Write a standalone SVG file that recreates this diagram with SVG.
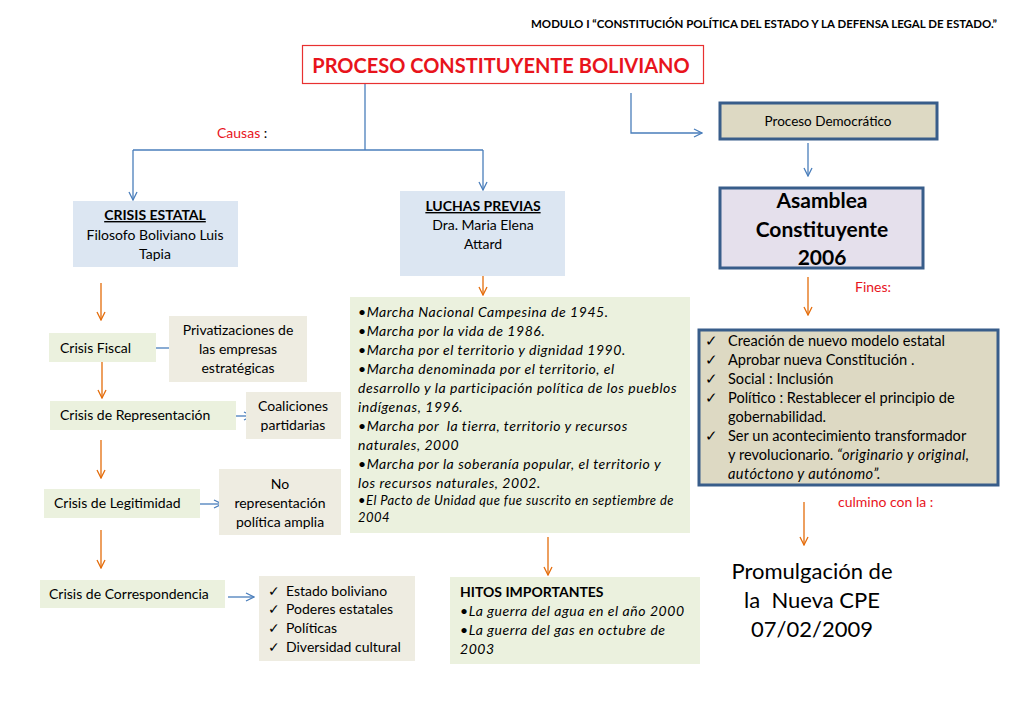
<svg xmlns="http://www.w3.org/2000/svg" width="1024" height="709" viewBox="0 0 1024 709">
<style>
text{font-family:Lato,"Open Sans","Liberation Sans",sans-serif;fill:#000}
.t{font-size:14px}
.f{font-size:14.6px}
.c{text-anchor:middle}
.b{font-weight:bold}
.i{font-style:italic}
.ls{letter-spacing:0.55px}
.red{fill:#e8141c}
.blue{stroke:#4a7ebb;stroke-width:1.3;fill:none}
.org{stroke:#e46c0a;stroke-width:1.3;fill:none}
.bluebox{fill:#dce6f2}
.green{fill:#ebf1de}
.tan{fill:#eeece1}
.frame{stroke:#385d8a;stroke-width:3}
</style>
<defs>
<marker id="ab" viewBox="0 0 10 10" refX="9" refY="5" markerWidth="10" markerHeight="10" markerUnits="userSpaceOnUse" orient="auto"><polyline points="1,1 9,5 1,9" fill="none" stroke="#4a7ebb" stroke-width="1.3"/></marker>
<marker id="ao" viewBox="0 0 10 10" refX="9" refY="5" markerWidth="10" markerHeight="10" markerUnits="userSpaceOnUse" orient="auto"><polyline points="1,1 9,5 1,9" fill="none" stroke="#e46c0a" stroke-width="1.3"/></marker>
</defs>
<rect width="1024" height="709" fill="#fff"/>
<text x="997" y="28" font-size="11" class="b" text-anchor="end" textLength="466" lengthAdjust="spacingAndGlyphs">MODULO I “CONSTITUCIÓN POLÍTICA DEL ESTADO Y LA DEFENSA LEGAL DE ESTADO.”</text>

<g id="connectors">
<polyline class="blue" points="365,83 365,150"/>
<polyline class="blue" points="133,150 483,150"/>
<polyline class="blue" points="133,150 133,200" marker-end="url(#ab)"/>
<polyline class="blue" points="483,150 483,190" marker-end="url(#ab)"/>
<polyline class="blue" points="631,93 631,133 702,133" marker-end="url(#ab)"/>
<polyline class="blue" points="808,143 808,176" marker-end="url(#ab)"/>
<polyline class="org" points="808,277 808,315" marker-end="url(#ao)"/>
<polyline class="org" points="804,502 804,545" marker-end="url(#ao)"/>
<polyline class="org" points="483,262 483,295" marker-end="url(#ao)"/>
<polyline class="org" points="548,537 548,575" marker-end="url(#ao)"/>
<polyline class="org" points="101,283 101,320" marker-end="url(#ao)"/>
<polyline class="org" points="102,362 102,398" marker-end="url(#ao)"/>
<polyline class="org" points="101,440 101,478" marker-end="url(#ao)"/>
<polyline class="org" points="101,530 101,568" marker-end="url(#ao)"/>
<polyline class="blue" points="152,348 178,348" marker-end="url(#ab)"/>
<polyline class="blue" points="225,416 252,416" marker-end="url(#ab)"/>
<polyline class="blue" points="194,504 222,504" marker-end="url(#ab)"/>
<polyline class="blue" points="228,597 254,597" marker-end="url(#ab)"/>
</g>

<g id="title">
<rect x="302.5" y="45.5" width="401" height="38" fill="#fff" stroke="#e83030" stroke-width="1.2"/>
<text x="501" y="73" class="c b red" font-size="20">PROCESO CONSTITUYENTE BOLIVIANO</text>
</g>

<g id="causas"><text x="217" y="138" class="t"><tspan class="red">Causas</tspan> :</text></g>

<g id="proceso-democratico">
<rect x="720" y="103" width="217" height="36" fill="#ddd9c3" class="frame"/>
<text x="828" y="126" class="c" font-size="13.5">Proceso Democrático</text>
</g>

<g id="asamblea">
<rect x="720" y="188" width="203" height="80" fill="#e5e0ec" class="frame"/>
<text x="822" y="208" class="c b" font-size="21">Asamblea</text>
<text x="822" y="237" class="c b" font-size="21">Constituyente</text>
<text x="822" y="265" class="c b" font-size="21">2006</text>
</g>

<g id="fines-label"><text x="855" y="292" class="t red">Fines:</text></g>

<g id="fines">
<rect x="699" y="330" width="299" height="155" fill="#ddd9c3" class="frame"/>
<g class="f">
<text x="705" y="346">✓</text><text x="728" y="346">Creación de nuevo modelo estatal</text>
<text x="705" y="365">✓</text><text x="728" y="365">Aprobar nueva Constitución .</text>
<text x="705" y="384">✓</text><text x="728" y="384">Social : Inclusión</text>
<text x="705" y="403">✓</text><text x="728" y="403">Político : Restablecer el principio de</text>
<text x="728" y="422">gobernabilidad.</text>
<text x="705" y="441">✓</text><text x="728" y="441">Ser un acontecimiento transformador</text>
<text x="728" y="460">y revolucionario. <tspan class="i" letter-spacing="0.4">“originario y original,</tspan></text>
<text x="728" y="479" class="i" letter-spacing="0.4">autóctono y autónomo”.</text>
</g>
</g>

<g id="culmino"><text x="838" y="507" class="t red">culmino con la :</text></g>

<g id="promulgacion">
<text x="812" y="579" class="c" font-size="22">Promulgación de</text>
<text x="812" y="608" class="c" font-size="22" xml:space="preserve">la  Nueva CPE</text>
<text x="812" y="637" class="c" font-size="22">07/02/2009</text>
</g>

<g id="crisis-estatal">
<rect x="73" y="201" width="165" height="66" class="bluebox"/>
<text x="155" y="220" class="t c b" text-decoration="underline">CRISIS ESTATAL</text>
<text x="155" y="240" class="t c">Filosofo Boliviano Luis</text>
<text x="155" y="259" class="t c">Tapia</text>
</g>

<g id="luchas-previas">
<rect x="400" y="191" width="165" height="85" class="bluebox"/>
<text x="483" y="211" class="t c b" text-decoration="underline">LUCHAS PREVIAS</text>
<text x="483" y="230" class="t c">Dra. Maria Elena</text>
<text x="483" y="249" class="t c">Attard</text>
</g>

<g id="marchas">
<rect x="350" y="297" width="340" height="236" class="green"/>
<g class="t i ls">
<text x="358" y="317">•Marcha Nacional Campesina de 1945.</text>
<text x="358" y="336">•Marcha por la vida de 1986.</text>
<text x="358" y="355">•Marcha por el territorio y dignidad 1990.</text>
<text x="358" y="374">•Marcha denominada por el territorio, el</text>
<text x="358" y="393">desarrollo y la participación política de los pueblos</text>
<text x="358" y="412">indígenas, 1996.</text>
<text x="358" y="431" xml:space="preserve">•Marcha por  la tierra, territorio y recursos</text>
<text x="358" y="450">naturales, 2000</text>
<text x="358" y="469">•Marcha por la soberanía popular, el territorio y</text>
<text x="358" y="488">los recursos naturales, 2002.</text>
<text x="358" y="505" font-size="13" letter-spacing="0.45">•El Pacto de Unidad que fue suscrito en septiembre de</text>
<text x="358" y="522" font-size="13" letter-spacing="0.45">2004</text>
</g>
</g>

<g id="hitos">
<rect x="450" y="577" width="250" height="87" class="green"/>
<text x="460" y="597" class="t b">HITOS IMPORTANTES</text>
<text x="460" y="616" class="t i ls">•La guerra del agua en el año 2000</text>
<text x="460" y="635" class="t i ls">•La guerra del gas en octubre de</text>
<text x="460" y="654" class="t i ls">2003</text>
</g>

<g id="crisis-fiscal">
<rect x="49" y="333" width="107" height="29" class="green"/>
<text x="60" y="353" class="t">Crisis Fiscal</text>
</g>
<g id="privatizaciones">
<rect x="169" y="316" width="138" height="66" class="tan"/>
<text x="238" y="335" class="t c">Privatizaciones de</text>
<text x="238" y="354" class="t c">las empresas</text>
<text x="238" y="373" class="t c">estratégicas</text>
</g>

<g id="crisis-representacion">
<rect x="50" y="401" width="186" height="29" class="green"/>
<text x="60" y="420" class="t">Crisis de Representación</text>
</g>
<g id="coaliciones">
<rect x="246" y="392" width="95" height="47" class="tan"/>
<text x="293" y="411" class="t c">Coaliciones</text>
<text x="293" y="430" class="t c">partidarias</text>
</g>

<g id="crisis-legitimidad">
<rect x="44" y="489" width="156" height="29" class="green"/>
<text x="54" y="508" class="t">Crisis de Legitimidad</text>
</g>
<g id="no-representacion">
<rect x="219" y="469" width="122" height="66" class="tan"/>
<text x="280" y="489" class="t c">No</text>
<text x="280" y="508" class="t c">representación</text>
<text x="280" y="527" class="t c">política amplia</text>
</g>

<g id="crisis-correspondencia">
<rect x="40" y="580" width="185" height="28" class="green"/>
<text x="49" y="599" class="t">Crisis de Correspondencia</text>
</g>
<g id="estado-boliviano">
<rect x="259" y="576" width="156" height="85" class="tan"/>
<g class="t">
<text x="268" y="596">✓</text><text x="286" y="596">Estado boliviano</text>
<text x="268" y="614">✓</text><text x="286" y="614">Poderes estatales</text>
<text x="268" y="633">✓</text><text x="286" y="633">Políticas</text>
<text x="268" y="652">✓</text><text x="286" y="652">Diversidad cultural</text>
</g>
</g>
</svg>
